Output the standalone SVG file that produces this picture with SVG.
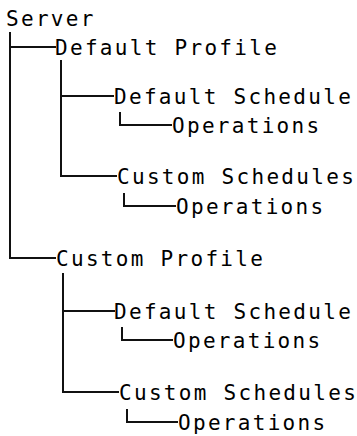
<svg xmlns="http://www.w3.org/2000/svg" width="357" height="436" viewBox="0 0 357 436">
<style>
text{font-family:"DejaVu Sans Mono","Liberation Mono",monospace;font-size:21px;letter-spacing:2.3px;fill:#000}
.c path{fill:none;stroke:#111;stroke-width:2}
</style>
<rect width="357" height="436" fill="#fff"/>
<g class="c" id="connectors">
<path d="M10,32 V258 H56"/>
<path d="M10,47 H56"/>
<path d="M61,60 V176 H117"/>
<path d="M61,96 H114"/>
<path d="M120,112 V125 H172"/>
<path d="M124,193 V206 H176"/>
<path d="M63,273 V392 H119"/>
<path d="M63,311 H115"/>
<path d="M122,327 V340 H173"/>
<path d="M127,409 V422 H178"/>
</g>
<g id="server"><text x="6" y="26">Server</text></g>
<g id="default-profile"><text x="55" y="55">Default Profile</text></g>
<g id="dp-default-schedule"><text x="114" y="104">Default Schedule</text></g>
<g id="dp-ds-operations"><text x="172" y="133">Operations</text></g>
<g id="dp-custom-schedules"><text x="117" y="184">Custom Schedules</text></g>
<g id="dp-cs-operations"><text x="176" y="214">Operations</text></g>
<g id="custom-profile"><text x="56" y="266">Custom Profile</text></g>
<g id="cp-default-schedule"><text x="114" y="319">Default Schedule</text></g>
<g id="cp-ds-operations"><text x="173" y="348">Operations</text></g>
<g id="cp-custom-schedules"><text x="119" y="400">Custom Schedules</text></g>
<g id="cp-cs-operations"><text x="178" y="430">Operations</text></g>
</svg>
